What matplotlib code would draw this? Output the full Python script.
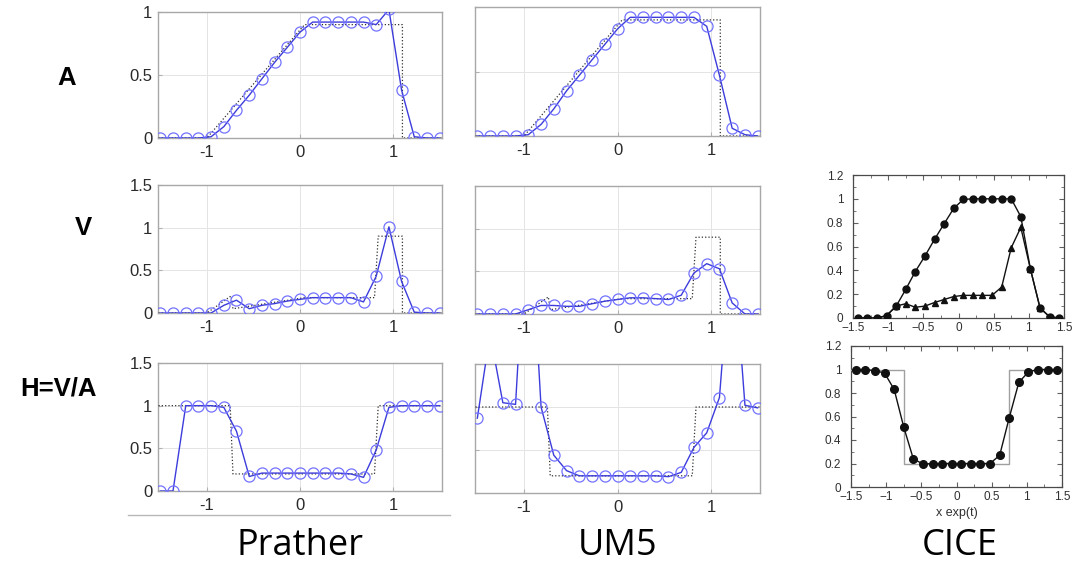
import matplotlib
matplotlib.use("Agg")
import matplotlib.pyplot as plt
from matplotlib.lines import Line2D
from matplotlib.ticker import MultipleLocator

W, H = 1088, 570
DPI = 100

# ---------------- data ----------------
# grid used by Prather / UM5 (23 points)
grid_x = [-1.5, -1.364, -1.227, -1.091, -0.955, -0.818, -0.682, -0.545, -0.409, -0.273,
          -0.136, 0.0, 0.136, 0.273, 0.409, 0.545, 0.682, 0.818, 0.955, 1.091,
          1.227, 1.364, 1.5]

prather_A = [0, 0, 0, 0, 0.01, 0.09, 0.22, 0.34, 0.47, 0.60, 0.72, 0.84, 0.92, 0.92,
             0.92, 0.92, 0.92, 0.90, 1.02, 0.38, 0.01, 0, 0]
prather_V = [0, 0, 0, 0, 0.0, 0.09, 0.15, 0.05, 0.09, 0.11, 0.14, 0.16, 0.18, 0.18,
             0.18, 0.18, 0.13, 0.43, 1.01, 0.37, 0.01, 0, 0]
prather_H = [0, 0, 1.0, 1.0, 1.0, 0.98, 0.70, 0.17, 0.21, 0.21, 0.21, 0.21, 0.21, 0.21,
             0.21, 0.20, 0.16, 0.48, 0.98, 1.0, 1.0, 1.0, 1.0]

um5_A = [0, 0, 0, 0, 0.01, 0.09, 0.21, 0.35, 0.47, 0.59, 0.71, 0.83, 0.92, 0.92,
         0.92, 0.92, 0.92, 0.92, 0.85, 0.47, 0.06, 0.01, 0]
um5_V = [0, 0, 0, 0, 0.05, 0.10, 0.10, 0.09, 0.09, 0.12, 0.15, 0.17, 0.19, 0.19,
         0.18, 0.17, 0.22, 0.48, 0.59, 0.53, 0.13, 0, 0]
um5_H = [0.87, 1.85, 1.05, 1.03, 3.6, 1.0, 0.44, 0.26, 0.20, 0.20, 0.20, 0.20, 0.20,
         0.20, 0.20, 0.19, 0.24, 0.53, 0.70, 1.11, 3.0, 1.02, 0.99]

# exact solutions (black dotted)
exact_A_x = [-1.52, -1.0, 0.05, 1.1, 1.1, 1.52]
exact_A_y = [0, 0, 0.90, 0.90, 0, 0]
exact_V_x = [-1.52, -1.0, -0.74, -0.72, 0.05, 0.80, 0.84, 1.1, 1.1, 1.52]
exact_V_y = [0, 0, 0.20, 0.05, 0.18, 0.18, 0.90, 0.90, 0, 0]
exact_H_x = [-1.52, -0.75, -0.72, 0.80, 0.84, 1.52]
exact_H_y = [1, 1, 0.2, 0.2, 1, 1]

# CICE (22 cell centres)
cice_x = [-1.432, -1.295, -1.159, -1.023, -0.886, -0.750, -0.614, -0.477, -0.341, -0.205,
          -0.068, 0.068, 0.205, 0.341, 0.477, 0.614, 0.750, 0.886, 1.023, 1.159,
          1.295, 1.432]
cice_A = [0, 0, 0, 0.02, 0.10, 0.24, 0.39, 0.52, 0.66, 0.79, 0.92, 0.995, 1.0, 1.0,
          1.0, 1.0, 1.0, 0.85, 0.41, 0.085, 0.01, 0]
cice_V = [0, 0, 0, 0.02, 0.10, 0.12, 0.09, 0.10, 0.13, 0.155, 0.18, 0.19, 0.19, 0.19,
          0.19, 0.26, 0.59, 0.76, 0.41, 0.085, 0.01, 0]
cice_H = [1.0, 1.0, 0.99, 0.97, 0.83, 0.51, 0.24, 0.195, 0.2, 0.2, 0.2, 0.2, 0.2, 0.2,
          0.2, 0.27, 0.59, 0.89, 0.98, 1.0, 1.0, 1.0]
cice_exact_x = [-1.5, -0.75, -0.75, 0.75, 0.75, 1.5]
cice_exact_y = [1, 1, 0.2, 0.2, 1, 1]

mat_xticks = [-1, 0, 1]
mat_xticklabels = ["-1", "0", "1"]
yticks_A = [0, 0.5, 1]
yticklabels_A = ["0", "0.5", "1"]
yticks_VH = [0, 0.5, 1, 1.5]
yticklabels_VH = ["0", "0.5", "1", "1.5"]

cice_xticks = [-1.5, -1, -0.5, 0, 0.5, 1, 1.5]
cice_xticklabels = ["\u22121.5", "\u22121", "\u22120.5", "0", "0.5", "1", "1.5"]
cice_yticks = [0, 0.2, 0.4, 0.6, 0.8, 1.0, 1.2]
cice_yticklabels = ["0", "0.2", "0.4", "0.6", "0.8", "1", "1.2"]

row_labels = ["A", "V", "H=V/A"]
col_labels = ["Prather", "UM5", "CICE"]

# ---------------- figure ----------------
fig = plt.figure(figsize=(W / DPI, H / DPI), dpi=DPI)
fig.patch.set_facecolor("white")


def px_axes(l, t, r, b):
    return fig.add_axes([l / W, 1 - b / H, (r - l) / W, (b - t) / H])


def matlab_panel(box, y, ex_x, ex_y, yticks, ylabels, show_ylabels, ylim):
    ax = px_axes(*box)
    ax.set_xlim(-1.525, 1.525)
    ax.set_ylim(*ylim)
    ax.set_xticks(mat_xticks)
    ax.set_xticklabels(mat_xticklabels)
    ax.set_yticks(yticks)
    if show_ylabels:
        ax.set_yticklabels(ylabels)
    else:
        ax.set_yticklabels([])
    ax.grid(True, color="#e4e4e4", linewidth=0.7)
    ax.set_axisbelow(True)
    for s in ax.spines.values():
        s.set_color("#a8a8a8")
        s.set_linewidth(1.0)
    ax.tick_params(direction="in", length=3, color="#b0b0b0", labelsize=12,
                   labelcolor="#2a2a2a", pad=4)
    ax.tick_params(axis="x", pad=5)
    for lab in ax.get_xticklabels() + ax.get_yticklabels():
        lab.set_fontfamily("Liberation Sans")
    ax.plot(ex_x, ex_y, linestyle=":", color="#303030", linewidth=0.9, zorder=3)
    ax.plot(grid_x, y, "-", color="#3c3cdc", linewidth=1.0, zorder=4)
    ax.plot(grid_x, y, "o", markerfacecolor="none", markeredgecolor="#7272ff",
            markersize=8, markeredgewidth=0.9, zorder=5)
    return ax


# Prather column
matlab_panel((158, 12, 442, 138), prather_A, exact_A_x, exact_A_y,
             yticks_A, yticklabels_A, True, (0, 1))
matlab_panel((158, 185, 442, 313), prather_V, exact_V_x, exact_V_y,
             yticks_VH, yticklabels_VH, True, (0, 1.5))
matlab_panel((158, 363, 442, 491), prather_H, exact_H_x, exact_H_y,
             yticks_VH, yticklabels_VH, True, (0, 1.5))

# UM5 column
matlab_panel((475, 7, 760, 136), um5_A, exact_A_x, exact_A_y,
             yticks_A, yticklabels_A, False, (0, 1))
matlab_panel((475, 186, 760, 314), um5_V, exact_V_x, exact_V_y,
             yticks_VH, yticklabels_VH, False, (0, 1.5))
matlab_panel((475, 364, 760, 493), um5_H, exact_H_x, exact_H_y,
             yticks_VH, yticklabels_VH, False, (0, 1.5))


def cice_panel(box, xlabel=None):
    ax = px_axes(*box)
    ax.set_xlim(-1.5, 1.5)
    ax.set_ylim(0, 1.2)
    ax.set_xticks(cice_xticks)
    ax.set_xticklabels(cice_xticklabels)
    ax.set_yticks(cice_yticks)
    ax.set_yticklabels(cice_yticklabels)
    ax.xaxis.set_minor_locator(MultipleLocator(0.25))
    ax.yaxis.set_minor_locator(MultipleLocator(0.1))
    for s in ax.spines.values():
        s.set_color("#4a4a4a")
        s.set_linewidth(0.9)
    ax.tick_params(which="both", direction="in", top=True, right=True,
                   color="#606060", labelsize=8.5, labelcolor="#303030")
    ax.tick_params(which="major", length=3.5)
    ax.tick_params(which="minor", length=2)
    ax.tick_params(axis="y", pad=7)
    ax.tick_params(axis="x", pad=3)
    for lab in ax.get_xticklabels() + ax.get_yticklabels():
        lab.set_fontfamily("Liberation Sans")
    if xlabel:
        ax.set_xlabel(xlabel, fontsize=9, color="#303030", labelpad=3,
                      fontfamily="Liberation Sans")
    return ax


ax = cice_panel((853, 175, 1064, 318))
ax.plot(cice_x, cice_V, "-^", color="#111111", linewidth=1.0, markersize=5, zorder=4)
ax.plot(cice_x, cice_A, "-o", color="#111111", linewidth=1.0, markersize=5, zorder=5)

ax = cice_panel((851, 346, 1062, 487), xlabel="x exp(t)")
ax.plot(cice_exact_x, cice_exact_y, "-", color="#a0a0a0", linewidth=1.0, zorder=3)
ax.plot(cice_x, cice_H, "-o", color="#111111", linewidth=1.0, markersize=5.5, zorder=5)

# rule under Prather column
fig.add_artist(Line2D([128 / W, 450 / W], [1 - 515 / H, 1 - 515 / H],
                      color="#b8b8b8", linewidth=1.0))

# row labels
for lab, (x, y) in zip(row_labels, [(67, 78), (83, 228), (58, 388)]):
    fig.text(x / W, 1 - y / H, lab, ha="center", va="center", fontsize=18.5,
             fontweight="bold", fontfamily="Liberation Sans", color="black")

# column labels
for lab, x in zip(col_labels, [300, 618, 960]):
    fig.text(x / W, 1 - 546 / H, lab, ha="center", va="center", fontsize=26,
             fontfamily="Open Sans", color="black")

fig.savefig("out.png", dpi=DPI, facecolor="white")
